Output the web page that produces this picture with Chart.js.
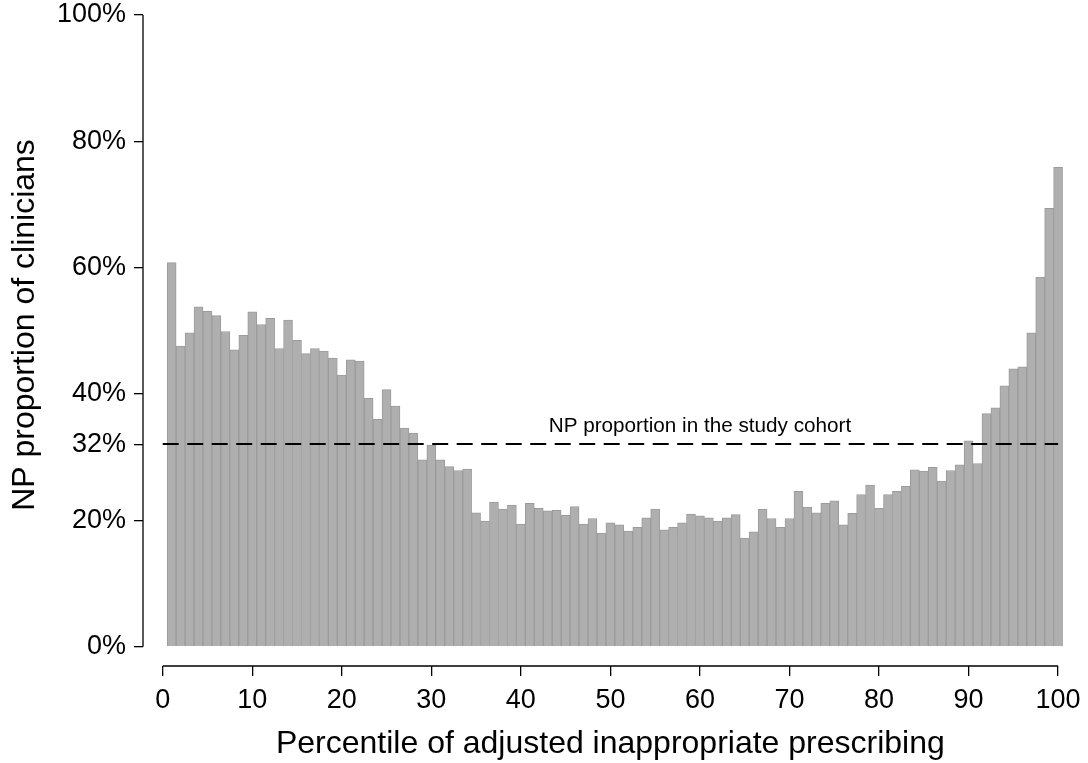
<!DOCTYPE html>
<html>
<head>
<meta charset="utf-8">
<script src="https://cdn.jsdelivr.net/npm/chart.js@4.4.1/dist/chart.umd.min.js"></script>
<style>
  html, body { margin: 0; padding: 0; background: #fff; }
</style>
</head>
<body>
<canvas id="chart" width="1088" height="763"></canvas>
<script>
// percentile bins along the x axis
const percentiles = [
  1, 2, 3, 4, 5, 6, 7, 8, 9, 10, 11, 12, 13, 14, 15, 16, 17, 18, 19, 20,
  21, 22, 23, 24, 25, 26, 27, 28, 29, 30, 31, 32, 33, 34, 35, 36, 37, 38, 39, 40,
  41, 42, 43, 44, 45, 46, 47, 48, 49, 50, 51, 52, 53, 54, 55, 56, 57, 58, 59, 60,
  61, 62, 63, 64, 65, 66, 67, 68, 69, 70, 71, 72, 73, 74, 75, 76, 77, 78, 79, 80,
  81, 82, 83, 84, 85, 86, 87, 88, 89, 90, 91, 92, 93, 94, 95, 96, 97, 98, 99, 100
];

// NP share of clinicians (%) in each percentile
const npShare = [
  60.8, 47.6, 49.7, 53.8, 53.1, 52.4, 49.9, 47.0, 49.3, 53.0,
  51.0, 52.0, 47.2, 51.7, 48.5, 46.4, 47.2, 46.8, 45.7, 43.0,
  45.4, 45.2, 39.3, 36.0, 40.7, 38.1, 34.6, 33.8, 29.6, 31.9,
  29.6, 28.5, 27.9, 28.1, 21.2, 19.9, 22.9, 21.8, 22.4, 19.4,
  22.7, 21.9, 21.5, 21.6, 20.8, 22.2, 19.4, 20.3, 18.0, 19.6,
  19.3, 18.3, 18.9, 20.4, 21.8, 18.5, 18.9, 19.6, 21.0, 20.7,
  20.4, 19.9, 20.4, 20.9, 17.2, 18.2, 21.8, 20.3, 18.9, 20.3,
  24.6, 22.1, 21.2, 22.7, 23.1, 19.3, 21.1, 24.1, 25.6, 21.9,
  24.1, 24.6, 25.4, 28.0, 27.8, 28.4, 26.2, 27.9, 28.8, 32.6,
  29.0, 36.9, 37.8, 41.3, 44.0, 44.3, 49.7, 58.5, 69.4, 75.9
];

// NP share in the whole cohort (%)
const cohortShare = 32.1;

const xTicks = [0, 10, 20, 30, 40, 50, 60, 70, 80, 90, 100];
const yTicks = [0, 20, 32, 40, 60, 80, 100];

const xTitle = 'Percentile of adjusted inappropriate prescribing';
const yTitle = 'NP proportion of clinicians';
const cohortLabel = 'NP proportion in the study cohort';
const cohortLabelAt = 60;

const FONT = '"Liberation Sans", Arial, Helvetica, sans-serif';

// R-style axes: lines only cover the data range, titles drawn by hand
const axesPlugin = {
  id: 'rAxes',
  afterDraw(chart) {
    const { ctx, chartArea, scales } = chart;
    const x = scales.x, y = scales.y;
    ctx.save();
    ctx.strokeStyle = '#000';
    ctx.lineWidth = 1.3;
    ctx.beginPath();
    ctx.moveTo(chartArea.left, y.getPixelForValue(0));
    ctx.lineTo(chartArea.left, y.getPixelForValue(100));
    ctx.moveTo(x.getPixelForValue(0), chartArea.bottom);
    ctx.lineTo(x.getPixelForValue(100), chartArea.bottom);
    ctx.stroke();

    ctx.fillStyle = '#000';
    ctx.textAlign = 'center';
    ctx.textBaseline = 'alphabetic';

    // reference line label
    ctx.font = '20.7px ' + FONT;
    ctx.fillText(cohortLabel, x.getPixelForValue(cohortLabelAt), y.getPixelForValue(cohortShare) - 12);

    // axis titles
    ctx.font = '32px ' + FONT;
    ctx.fillText(xTitle, (x.getPixelForValue(0) + x.getPixelForValue(100)) / 2, 753);
    ctx.translate(34, 325);
    ctx.rotate(-Math.PI / 2);
    ctx.fillText(yTitle, 0, 0);
    ctx.restore();
  }
};

const ctx = document.getElementById('chart').getContext('2d');

new Chart(ctx, {
  type: 'bar',
  data: {
    datasets: [
      {
        type: 'bar',
        data: percentiles.map((p, i) => ({ x: p, y: npShare[i] })),
        backgroundColor: '#afafaf',
        borderColor: '#9b9b9b',
        borderWidth: 1,
        barPercentage: 1,
        categoryPercentage: 1,
        order: 2
      },
      {
        type: 'line',
        data: [{ x: 0, y: cohortShare }, { x: 100, y: cohortShare }],
        borderColor: '#000',
        borderWidth: 2,
        borderDash: [16, 8.5],
        pointRadius: 0,
        order: 1
      }
    ]
  },
  options: {
    responsive: false,
    animation: false,
    devicePixelRatio: 1,
    layout: {
      autoPadding: false,
      padding: { left: 0, right: 12, top: 15, bottom: 0 }
    },
    plugins: {
      legend: { display: false },
      tooltip: { enabled: false }
    },
    scales: {
      x: {
        type: 'linear',
        min: -2.2,
        max: 102,
        offset: false,
        border: { display: false },
        grid: { drawOnChartArea: false, offset: false, tickLength: 10, color: '#000', lineWidth: 1.3 },
        ticks: { color: '#000', font: { family: FONT, size: 27 }, padding: 8, maxRotation: 0, autoSkip: false },
        afterBuildTicks: s => { s.ticks = xTicks.map(v => ({ value: v })); },
        afterFit: s => { s.height = 97; s.paddingLeft = 0; s.paddingRight = 0; }
      },
      y: {
        min: -3.055,
        max: 100,
        border: { display: false },
        grid: { drawOnChartArea: false, tickLength: 9, color: '#000', lineWidth: 1.3 },
        ticks: {
          color: '#000',
          font: { family: FONT, size: 27 },
          padding: 8,
          callback: v => v + '%'
        },
        afterBuildTicks: s => { s.ticks = yTicks.map(v => ({ value: v })); },
        afterFit: s => { s.width = 143; s.paddingTop = 0; s.paddingBottom = 0; }
      }
    }
  },
  plugins: [axesPlugin]
});
</script>
</body>
</html>
